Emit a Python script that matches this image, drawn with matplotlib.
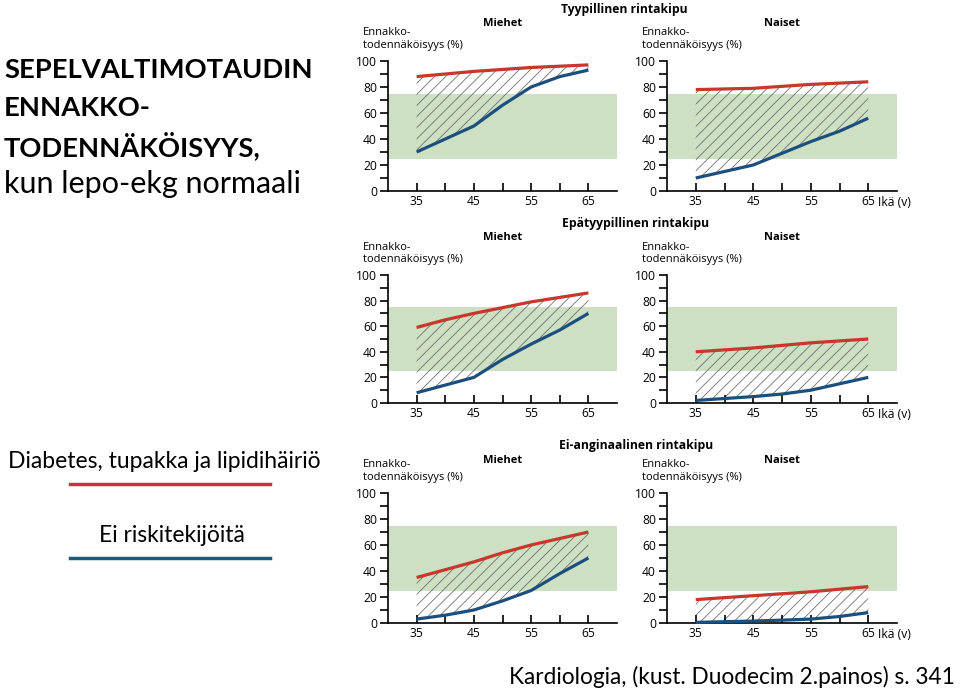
import matplotlib
matplotlib.use("Agg")
import matplotlib.pyplot as plt
import numpy as np

# ages on x axis
ages = [35, 40, 45, 50, 55, 60, 65]

# typical chest pain
typ_men_risk = [88, 90, 92, 93.5, 95, 96, 97]
typ_men_none = [30, 40, 50, 66, 80, 88, 93]
typ_women_risk = [78, 78.5, 79, 80.5, 82, 83, 84]
typ_women_none = [10, 15, 20, 29, 38, 46, 56]

# atypical chest pain
atyp_men_risk = [59, 65, 70, 74.5, 79, 82.5, 86]
atyp_men_none = [8, 14, 20, 34, 46, 57, 70]
atyp_women_risk = [40, 41.5, 43, 45, 47, 48.5, 50]
atyp_women_none = [2, 3.5, 5, 7, 10, 15, 20]

# non-anginal chest pain
nonang_men_risk = [35, 41, 47, 54, 60, 65, 70]
nonang_men_none = [3, 6, 10, 17, 25, 38, 50]
nonang_women_risk = [18, 19.5, 21, 22.5, 24, 26, 28]
nonang_women_none = [0.5, 1, 1.5, 2.2, 3, 5, 8]

row_titles = ["Tyypillinen rintakipu", "Epätyypillinen rintakipu", "Ei-anginaalinen rintakipu"]
panels = [
    [(typ_men_risk, typ_men_none), (typ_women_risk, typ_women_none)],
    [(atyp_men_risk, atyp_men_none), (atyp_women_risk, atyp_women_none)],
    [(nonang_men_risk, nonang_men_none), (nonang_women_risk, nonang_women_none)],
]

RED = "#c8372b"
BLUE = "#1c4f7e"
GREEN = "#cde0c3"
FONT = "Open Sans"

plt.rcParams['font.family'] = [FONT, 'DejaVu Sans']
plt.rcParams['hatch.linewidth'] = 0.55
plt.rcParams['hatch.color'] = '#666666'

fig = plt.figure(figsize=(9.6, 6.92), dpi=100)
W, H = 960.0, 692.0

col_x = [(388, 617), (667, 897)]
row_y = [(61, 191), (275, 403), (493, 623)]
title_pos = [(624, 9), (636, 223), (636, 446)]

for r in range(3):
    fig.text(title_pos[r][0] / W, 1 - title_pos[r][1] / H, row_titles[r],
             ha='center', va='center', fontsize=8.7, fontweight='bold')
    for c in range(2):
        x0, x1 = col_x[c]
        y0, y1 = row_y[r]
        ax = fig.add_axes([x0 / W, 1 - y1 / H, (x1 - x0) / W, (y1 - y0) / H])
        risk, none = panels[r][c]
        ax.axhspan(25, 75, color=GREEN, zorder=0, lw=0)
        ax.fill_between(ages, none, risk, facecolor='none', hatch='///',
                        edgecolor='#666666', linewidth=0, zorder=1)
        ax.plot(ages, risk, color=RED, lw=2.3, zorder=3, clip_on=False,
                solid_capstyle='butt')
        ax.plot(ages, none, color=BLUE, lw=2.3, zorder=3, clip_on=False,
                solid_capstyle='butt')
        ax.set_xlim(30, 70)
        ax.set_ylim(0, 100)
        for s in ['top', 'right']:
            ax.spines[s].set_visible(False)
        for s in ['left', 'bottom']:
            ax.spines[s].set_linewidth(1.2)
        ax.set_yticks(range(0, 101, 20))
        ax.set_yticks(range(10, 100, 20), minor=True)
        ax.set_xticks(ages)
        ax.set_xticklabels([str(a) if a in (35, 45, 55, 65) else '' for a in ages])
        ax.tick_params(axis='y', which='both', direction='out', length=6,
                       width=1.2, labelsize=8.7, pad=2)
        ax.tick_params(axis='x', direction='in', length=6, width=1.2,
                       labelsize=8.7, pad=3)
        ax.text(-0.11, 1.08, "Ennakko-\ntodennäköisyys (%)", transform=ax.transAxes,
                ha='left', va='bottom', fontsize=8, linespacing=1.15)
        sub = "Miehet" if c == 0 else "Naiset"
        ax.text(0.5, 1.29 if r < 2 else 1.25, sub, transform=ax.transAxes,
                ha='center', va='center', fontsize=8, fontweight='bold')
        if c == 1:
            ax.text(66.7, -0.04, "Ikä (v)", transform=ax.get_xaxis_transform(),
                    ha='left', va='top', fontsize=8.7)

# left-hand title
TFONT = ['Lato', 'DejaVu Sans']
fig.text(4 / W, 1 - 70 / H, "SEPELVALTIMOTAUDIN", family=TFONT,
         fontsize=19.7, fontweight='bold', va='center', ha='left')
fig.text(4 / W, 1 - 108 / H, "ENNAKKO-", family=TFONT,
         fontsize=19.7, fontweight='bold', va='center', ha='left')
fig.text(4 / W, 1 - 146 / H, "TODENNÄKÖISYYS,", family=TFONT,
         fontsize=19.7, fontweight='bold', va='center', ha='left')
fig.text(4 / W, 1 - 184 / H, "kun lepo-ekg normaali", family=TFONT,
         fontsize=22, va='center', ha='left')

# legend
fig.text(164 / W, 1 - 461 / H, "Diabetes, tupakka ja lipidihäiriö", family=TFONT,
         fontsize=16.5, ha='center', va='center')
fig.add_artist(plt.Line2D([70 / W, 270 / W], [1 - 484 / H, 1 - 484 / H],
                          color=RED, lw=2.5, transform=fig.transFigure))
fig.text(172 / W, 1 - 536 / H, "Ei riskitekijöitä", family=TFONT,
         fontsize=16.5, ha='center', va='center')
fig.add_artist(plt.Line2D([70 / W, 270 / W], [1 - 558 / H, 1 - 558 / H],
                          color='#1e5a78', lw=2.5, transform=fig.transFigure))

fig.text(955 / W, 1 - 677 / H, "Kardiologia, (kust. Duodecim 2.painos) s. 341",
         family=TFONT, fontsize=16.3, ha='right', va='center')

fig.savefig("out.png", dpi=100)
